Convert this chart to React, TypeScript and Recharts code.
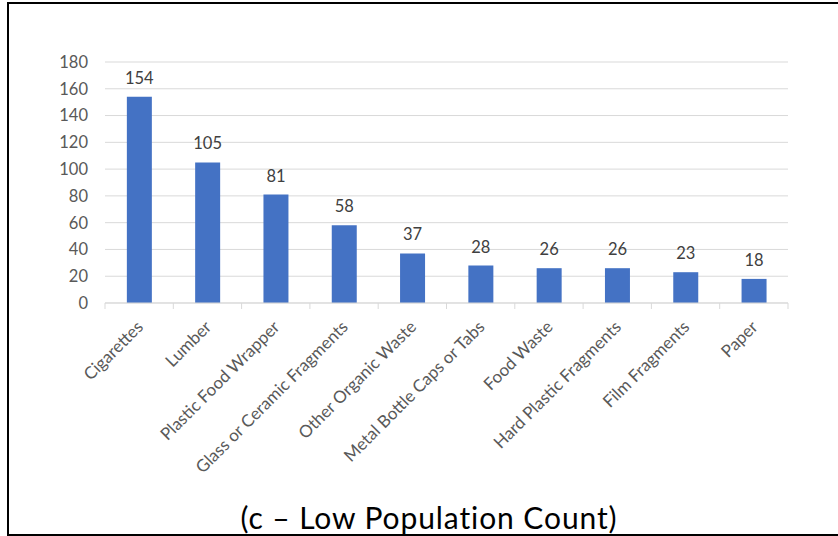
import React from 'react';
import { BarChart, Bar, XAxis, YAxis, CartesianGrid, LabelList } from 'recharts';

const CATEGORIES = [
  'Cigarettes',
  'Lumber',
  'Plastic Food Wrapper',
  'Glass or Ceramic Fragments',
  'Other Organic Waste',
  'Metal Bottle Caps or Tabs',
  'Food Waste',
  'Hard Plastic Fragments',
  'Film Fragments',
  'Paper',
];
const COUNTS = [154, 105, 81, 58, 37, 28, 26, 26, 23, 18];
const Y_TICKS = [0, 20, 40, 60, 80, 100, 120, 140, 160, 180];

const data = CATEGORIES.map((name, i) => ({ name, value: COUNTS[i] }));

const FONT = 'Lato, "Open Sans", sans-serif';

// category label rotated -45deg, plus the tick marks between categories
const CategoryTick = (props: any) => {
  const { x, y, payload, index } = props;
  const half = payload.offset || 0;
  const axisY = y - 8;
  const tx = x + 5;
  const ty = y + 17;
  return (
    <g>
      <line x1={x - half} x2={x - half} y1={axisY} y2={axisY + 6} stroke="#d9d9d9" />
      {index === CATEGORIES.length - 1 && (
        <line x1={x + half} x2={x + half} y1={axisY} y2={axisY + 6} stroke="#d9d9d9" />
      )}
      <text
        x={tx}
        y={ty}
        transform={`rotate(-45, ${tx}, ${ty})`}
        textAnchor="end"
        fontSize={17}
        fill="#595959"
        fontFamily={FONT}
      >
        {payload.value}
      </text>
    </g>
  );
};

export default function App() {
  return (
    <div style={{ position: 'fixed', left: 0, top: 0, width: 838, height: 536, background: '#fff', overflow: 'hidden' }}>
      <div
        style={{
          position: 'absolute',
          left: 7,
          top: 2,
          width: 850,
          height: 530,
          border: '2px solid #000',
        }}
      />
      <BarChart
        width={838}
        height={536}
        data={data}
        margin={{ top: 62, right: 50, left: 0, bottom: 133 }}
        barCategoryGap="32%"
        style={{ position: 'absolute', left: 0, top: 0 }}
      >
        <CartesianGrid vertical={false} stroke="#d9d9d9" />
        <YAxis
          domain={[0, 180]}
          ticks={Y_TICKS}
          width={105}
          axisLine={false}
          tickLine={false}
          tickMargin={11}
          tick={{ fontSize: 16.5, fill: '#595959', fontFamily: FONT }}
        />
        <XAxis
          dataKey="name"
          interval={0}
          height={100}
          axisLine={{ stroke: '#d9d9d9' }}
          tickLine={false}
          tick={<CategoryTick />}
        />
        <Bar dataKey="value" fill="#4472C4" isAnimationActive={false}>
          <LabelList
            dataKey="value"
            position="top"
            offset={13}
            fontSize={16.5}
            fill="#404040"
            fontFamily={FONT}
          />
        </Bar>
      </BarChart>
      <div
        style={{
          position: 'absolute',
          left: 0,
          width: 858,
          top: 498,
          textAlign: 'center',
          fontFamily: FONT,
          fontSize: 30,
          letterSpacing: 0.9,
          color: '#000',
          lineHeight: '38px',
        }}
      >
        (c – Low Population Count)
      </div>
    </div>
  );
}
